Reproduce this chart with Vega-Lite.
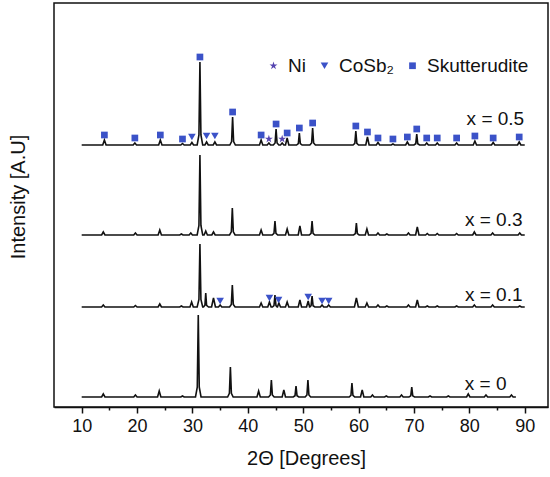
{
  "$schema": "https://vega.github.io/schema/vega-lite/v6.json",
  "width": 494,
  "height": 404,
  "autosize": {"type": "none"},
  "padding": {"left": 54, "top": 3, "right": 2, "bottom": 70},
  "background": "white",
  "title": {"text": "Intensity [A.U]", "orient": "left", "anchor": "middle", "fontSize": 20, "fontWeight": "normal", "font": "Liberation Sans", "color": "#111", "offset": 25, "dx": 8},
  "config": {
    "font": "Liberation Sans",
    "view": {"stroke": "#111", "strokeWidth": 1.5},
    "axis": {"grid": false, "domainColor": "#111", "domainWidth": 1.5, "tickColor": "#111", "tickWidth": 1.5, "labelColor": "#111", "titleColor": "#111", "labelFont": "Liberation Sans", "titleFont": "Liberation Sans", "titleFontWeight": "normal"}
  },
  "datasets": {
    "t05": [
      {"x":10,"y":262},
      {"x":13.8,"y":262},{"x":14.1,"y":267},{"x":14.4,"y":262},
      {"x":19.3,"y":262},{"x":19.6,"y":264},{"x":19.9,"y":262},
      {"x":23.9,"y":262},{"x":24.2,"y":267},{"x":24.5,"y":262},
      {"x":27.9,"y":262},{"x":28.2,"y":263.5},{"x":28.5,"y":262},
      {"x":29.6,"y":262},{"x":29.9,"y":264.5},{"x":30.2,"y":262},
      {"x":30.85,"y":262},{"x":31.17,"y":272},{"x":31.35,"y":345},{"x":31.53,"y":272},{"x":31.85,"y":262},
      {"x":32.25,"y":262},{"x":32.55,"y":265},{"x":32.85,"y":262},
      {"x":33.75,"y":262},{"x":34.05,"y":265},{"x":34.35,"y":262},
      {"x":36.75,"y":262},{"x":37.07,"y":265.4},{"x":37.25,"y":290},{"x":37.43,"y":265.4},{"x":37.75,"y":262},
      {"x":42.1,"y":262},{"x":42.4,"y":267},{"x":42.7,"y":262},
      {"x":43.5,"y":262},{"x":43.8,"y":264},{"x":44.1,"y":262},
      {"x":44.6,"y":262},{"x":44.92,"y":264},{"x":45.1,"y":278},{"x":45.28,"y":264},{"x":45.6,"y":262},
      {"x":45.9,"y":262},{"x":46.2,"y":264},{"x":46.5,"y":262},
      {"x":46.8,"y":262},{"x":47.1,"y":269},{"x":47.4,"y":262},
      {"x":48.8,"y":262},{"x":49.12,"y":263.5},{"x":49.3,"y":274},{"x":49.48,"y":263.5},{"x":49.8,"y":262},
      {"x":51.2,"y":262},{"x":51.52,"y":264},{"x":51.7,"y":279},{"x":51.88,"y":264},{"x":52.2,"y":262},
      {"x":59.0,"y":262},{"x":59.32,"y":263.7},{"x":59.5,"y":276},{"x":59.68,"y":263.7},{"x":60.0,"y":262},
      {"x":61.3,"y":262},{"x":61.6,"y":270},{"x":61.9,"y":262},
      {"x":63.2,"y":262},{"x":63.5,"y":264.5},{"x":63.8,"y":262},
      {"x":65.9,"y":262},{"x":66.2,"y":263},{"x":66.5,"y":262},
      {"x":68.5,"y":262},{"x":68.8,"y":265},{"x":69.1,"y":262},
      {"x":70.0,"y":262},{"x":70.32,"y":263.3},{"x":70.5,"y":273},{"x":70.68,"y":263.3},{"x":71.0,"y":262},
      {"x":72.0,"y":262},{"x":72.3,"y":264},{"x":72.6,"y":262},
      {"x":73.9,"y":262},{"x":74.2,"y":264},{"x":74.5,"y":262},
      {"x":77.4,"y":262},{"x":77.7,"y":264},{"x":78.0,"y":262},
      {"x":80.7,"y":262},{"x":81.0,"y":266},{"x":81.3,"y":262},
      {"x":84.0,"y":262},{"x":84.3,"y":264.5},{"x":84.6,"y":262},
      {"x":88.7,"y":262},{"x":89.0,"y":265},{"x":89.3,"y":262},
      {"x":90,"y":262}
    ],
    "t03": [
      {"x":10,"y":172},
      {"x":13.6,"y":172},{"x":13.9,"y":175},{"x":14.2,"y":172},
      {"x":19.4,"y":172},{"x":19.7,"y":174},{"x":20.0,"y":172},
      {"x":23.8,"y":172},{"x":24.1,"y":177},{"x":24.4,"y":172},
      {"x":27.7,"y":172},{"x":28.0,"y":173},{"x":28.3,"y":172},
      {"x":29.4,"y":172},{"x":29.7,"y":174},{"x":30.0,"y":172},
      {"x":30.85,"y":172},{"x":31.17,"y":181.6},{"x":31.35,"y":252},{"x":31.53,"y":181.6},{"x":31.85,"y":172},
      {"x":32.1,"y":172},{"x":32.4,"y":176},{"x":32.7,"y":172},
      {"x":33.5,"y":172},{"x":33.8,"y":175},{"x":34.1,"y":172},
      {"x":36.7,"y":172},{"x":37.02,"y":175.2},{"x":37.2,"y":199},{"x":37.38,"y":175.2},{"x":37.7,"y":172},
      {"x":42.1,"y":172},{"x":42.4,"y":177},{"x":42.7,"y":172},
      {"x":44.4,"y":172},{"x":44.72,"y":173.7},{"x":44.9,"y":186},{"x":45.08,"y":173.7},{"x":45.4,"y":172},
      {"x":46.8,"y":172},{"x":47.1,"y":178},{"x":47.4,"y":172},
      {"x":49.1,"y":172},{"x":49.4,"y":181},{"x":49.7,"y":172},
      {"x":51.1,"y":172},{"x":51.42,"y":173.7},{"x":51.6,"y":186},{"x":51.78,"y":173.7},{"x":52.1,"y":172},
      {"x":59.1,"y":172},{"x":59.42,"y":173.4},{"x":59.6,"y":184},{"x":59.78,"y":173.4},{"x":60.1,"y":172},
      {"x":61.2,"y":172},{"x":61.5,"y":178},{"x":61.8,"y":172},
      {"x":63.2,"y":172},{"x":63.5,"y":174},{"x":63.8,"y":172},
      {"x":64.8,"y":172},{"x":65.1,"y":173},{"x":65.4,"y":172},
      {"x":68.7,"y":172},{"x":69.0,"y":174},{"x":69.3,"y":172},
      {"x":70.3,"y":172},{"x":70.6,"y":180},{"x":70.9,"y":172},
      {"x":72.1,"y":172},{"x":72.4,"y":173.5},{"x":72.7,"y":172},
      {"x":73.9,"y":172},{"x":74.2,"y":173.5},{"x":74.5,"y":172},
      {"x":77.4,"y":172},{"x":77.7,"y":173.5},{"x":78.0,"y":172},
      {"x":80.6,"y":172},{"x":80.9,"y":175},{"x":81.2,"y":172},
      {"x":83.9,"y":172},{"x":84.2,"y":174},{"x":84.5,"y":172},
      {"x":88.8,"y":172},{"x":89.1,"y":174},{"x":89.4,"y":172},
      {"x":90,"y":172}
    ],
    "t01": [
      {"x":10,"y":100},
      {"x":13.6,"y":100},{"x":13.9,"y":102},{"x":14.2,"y":100},
      {"x":19.4,"y":100},{"x":19.7,"y":101.5},{"x":20.0,"y":100},
      {"x":23.8,"y":100},{"x":24.1,"y":103},{"x":24.4,"y":100},
      {"x":27.7,"y":100},{"x":28.0,"y":101},{"x":28.3,"y":100},
      {"x":29.55,"y":100},{"x":29.85,"y":105},{"x":30.15,"y":100},
      {"x":30.85,"y":100},{"x":31.17,"y":107.6},{"x":31.35,"y":163},{"x":31.53,"y":107.6},{"x":31.85,"y":100},
      {"x":32.0,"y":100},{"x":32.25,"y":101.7},{"x":32.4,"y":114},{"x":32.55,"y":101.7},{"x":32.9,"y":100},
      {"x":33.45,"y":100},{"x":33.8,"y":109},{"x":34.15,"y":100},
      {"x":34.7,"y":100},{"x":35.0,"y":102},{"x":35.3,"y":100},
      {"x":36.7,"y":100},{"x":37.02,"y":102.6},{"x":37.2,"y":122},{"x":37.38,"y":102.6},{"x":37.7,"y":100},
      {"x":42.1,"y":100},{"x":42.4,"y":104},{"x":42.7,"y":100},
      {"x":43.6,"y":100},{"x":43.9,"y":105},{"x":44.2,"y":100},
      {"x":44.45,"y":100},{"x":44.72,"y":101.4},{"x":44.9,"y":112},{"x":45.08,"y":101.4},{"x":45.3,"y":100},
      {"x":45.35,"y":100},{"x":45.6,"y":104},{"x":45.9,"y":100},
      {"x":46.8,"y":100},{"x":47.1,"y":105},{"x":47.4,"y":100},
      {"x":49.1,"y":100},{"x":49.4,"y":107},{"x":49.7,"y":100},
      {"x":50.6,"y":100},{"x":50.9,"y":106},{"x":51.15,"y":100},
      {"x":51.2,"y":100},{"x":51.42,"y":101.3},{"x":51.6,"y":111},{"x":51.78,"y":101.3},{"x":52.1,"y":100},
      {"x":53.1,"y":100},{"x":53.4,"y":102},{"x":53.7,"y":100},
      {"x":54.3,"y":100},{"x":54.6,"y":102},{"x":54.9,"y":100},
      {"x":59.25,"y":100},{"x":59.6,"y":109},{"x":59.95,"y":100},
      {"x":61.2,"y":100},{"x":61.5,"y":104},{"x":61.8,"y":100},
      {"x":63.2,"y":100},{"x":63.5,"y":102},{"x":63.8,"y":100},
      {"x":64.8,"y":100},{"x":65.1,"y":101},{"x":65.4,"y":100},
      {"x":68.7,"y":100},{"x":69.0,"y":102},{"x":69.3,"y":100},
      {"x":70.3,"y":100},{"x":70.6,"y":107},{"x":70.9,"y":100},
      {"x":72.1,"y":100},{"x":72.4,"y":101},{"x":72.7,"y":100},
      {"x":73.9,"y":100},{"x":74.2,"y":101},{"x":74.5,"y":100},
      {"x":77.4,"y":100},{"x":77.7,"y":101},{"x":78.0,"y":100},
      {"x":80.6,"y":100},{"x":80.9,"y":102},{"x":81.2,"y":100},
      {"x":83.9,"y":100},{"x":84.2,"y":102},{"x":84.5,"y":100},
      {"x":88.8,"y":100},{"x":89.1,"y":101},{"x":89.4,"y":100},
      {"x":90,"y":100}
    ],
    "t00": [
      {"x":10,"y":10},
      {"x":13.6,"y":10},{"x":13.9,"y":13},{"x":14.2,"y":10},
      {"x":19.4,"y":10},{"x":19.7,"y":12},{"x":20.0,"y":10},
      {"x":23.7,"y":10},{"x":24.0,"y":16},{"x":24.3,"y":10},
      {"x":27.9,"y":10},{"x":28.2,"y":11},{"x":28.5,"y":10},
      {"x":30.55,"y":10},{"x":30.87,"y":19.8},{"x":31.05,"y":92},{"x":31.23,"y":19.8},{"x":31.55,"y":10},
      {"x":36.35,"y":10},{"x":36.67,"y":13.6},{"x":36.85,"y":40},{"x":37.03,"y":13.6},{"x":37.35,"y":10},
      {"x":41.65,"y":10},{"x":41.95,"y":16},{"x":42.25,"y":10},
      {"x":43.75,"y":10},{"x":44.07,"y":12},{"x":44.25,"y":27},{"x":44.43,"y":12},{"x":44.75,"y":10},
      {"x":46.2,"y":10},{"x":46.5,"y":17},{"x":46.8,"y":10},
      {"x":48.2,"y":10},{"x":48.52,"y":11.3},{"x":48.7,"y":21},{"x":48.88,"y":11.3},{"x":49.2,"y":10},
      {"x":50.35,"y":10},{"x":50.67,"y":12},{"x":50.85,"y":27},{"x":51.03,"y":12},{"x":51.35,"y":10},
      {"x":58.3,"y":10},{"x":58.62,"y":11.7},{"x":58.8,"y":24},{"x":58.98,"y":11.7},{"x":59.3,"y":10},
      {"x":60.35,"y":10},{"x":60.65,"y":17},{"x":60.95,"y":10},
      {"x":62.2,"y":10},{"x":62.5,"y":12},{"x":62.8,"y":10},
      {"x":64.7,"y":10},{"x":65.0,"y":11},{"x":65.3,"y":10},
      {"x":67.45,"y":10},{"x":67.75,"y":12},{"x":68.05,"y":10},
      {"x":69.1,"y":10},{"x":69.42,"y":11.2},{"x":69.6,"y":20},{"x":69.78,"y":11.2},{"x":70.1,"y":10},
      {"x":72.6,"y":10},{"x":72.9,"y":11},{"x":73.2,"y":10},
      {"x":75.9,"y":10},{"x":76.2,"y":11},{"x":76.5,"y":10},
      {"x":79.5,"y":10},{"x":79.8,"y":13},{"x":80.1,"y":10},
      {"x":82.7,"y":10},{"x":83.0,"y":12},{"x":83.3,"y":10},
      {"x":87.3,"y":10},{"x":87.6,"y":12},{"x":87.9,"y":10},
      {"x":88.4,"y":10}
    ],
    "markers": [
      {"x":14.1,"y":272,"phase":"Skutterudite"},
      {"x":19.6,"y":269,"phase":"Skutterudite"},
      {"x":24.2,"y":272,"phase":"Skutterudite"},
      {"x":28.2,"y":268,"phase":"Skutterudite"},
      {"x":31.35,"y":350,"phase":"Skutterudite"},
      {"x":37.25,"y":295,"phase":"Skutterudite"},
      {"x":42.4,"y":272,"phase":"Skutterudite"},
      {"x":45.1,"y":283,"phase":"Skutterudite"},
      {"x":47.1,"y":274,"phase":"Skutterudite"},
      {"x":49.3,"y":279,"phase":"Skutterudite"},
      {"x":51.7,"y":284,"phase":"Skutterudite"},
      {"x":59.5,"y":281,"phase":"Skutterudite"},
      {"x":61.6,"y":275,"phase":"Skutterudite"},
      {"x":63.5,"y":269,"phase":"Skutterudite"},
      {"x":66.2,"y":268,"phase":"Skutterudite"},
      {"x":68.8,"y":270,"phase":"Skutterudite"},
      {"x":70.5,"y":278,"phase":"Skutterudite"},
      {"x":72.3,"y":269,"phase":"Skutterudite"},
      {"x":74.2,"y":269,"phase":"Skutterudite"},
      {"x":77.7,"y":269,"phase":"Skutterudite"},
      {"x":81.0,"y":271,"phase":"Skutterudite"},
      {"x":84.3,"y":269,"phase":"Skutterudite"},
      {"x":89.0,"y":270,"phase":"Skutterudite"},
      {"x":29.9,"y":270,"phase":"CoSb₂"},
      {"x":32.55,"y":271,"phase":"CoSb₂"},
      {"x":34.05,"y":271,"phase":"CoSb₂"},
      {"x":43.8,"y":268,"phase":"Ni"},
      {"x":46.2,"y":268,"phase":"Ni"},
      {"x":35.0,"y":106,"phase":"CoSb₂"},
      {"x":43.9,"y":109,"phase":"CoSb₂"},
      {"x":45.55,"y":107,"phase":"CoSb₂"},
      {"x":50.9,"y":110,"phase":"CoSb₂"},
      {"x":53.4,"y":106,"phase":"CoSb₂"},
      {"x":54.6,"y":106,"phase":"CoSb₂"}
    ],
    "labels": [
      {"x":89.9,"y":288,"label":"x = 0.5"},
      {"x":89.6,"y":187,"label":"x = 0.3"},
      {"x":89.6,"y":112,"label":"x = 0.1"},
      {"x":86.7,"y":23,"label":"x = 0"}
    ]
  },
  "resolve": {"axis": {"x": "independent"}},
  "layer": [
    {
      "data": {"name": "t05"},
      "mark": {"type": "line", "color": "#111", "strokeWidth": 1.6},
      "encoding": {
        "x": {"field": "x", "type": "quantitative", "scale": {"domain": [5, 94.2], "nice": false, "zero": false},
          "axis": {"orient": "bottom", "values": [10,20,30,40,50,60,70,80,90], "tickSize": 6, "labelFontSize": 18, "labelPadding": 4, "title": "2Θ [Degrees]", "titleFontSize": 20, "titlePadding": 13, "titleX": 252}},
        "y": {"field": "y", "type": "quantitative", "scale": {"domain": [0, 404], "nice": false, "zero": false}, "axis": null}
      }
    },
    {
      "data": {"name": "t03"},
      "mark": {"type": "line", "color": "#111", "strokeWidth": 1.6},
      "encoding": {
        "x": {"field": "x", "type": "quantitative",
          "axis": {"orient": "bottom", "values": [15,25,35,45,55,65,75,85], "tickSize": 3, "labels": false, "domain": false, "title": null}},
        "y": {"field": "y", "type": "quantitative", "axis": null}
      }
    },
    {
      "data": {"name": "t01"},
      "mark": {"type": "line", "color": "#111", "strokeWidth": 1.6},
      "encoding": {
        "x": {"field": "x", "type": "quantitative", "axis": null},
        "y": {"field": "y", "type": "quantitative", "axis": null}
      }
    },
    {
      "data": {"name": "t00"},
      "mark": {"type": "line", "color": "#111", "strokeWidth": 1.6},
      "encoding": {
        "x": {"field": "x", "type": "quantitative", "axis": null},
        "y": {"field": "y", "type": "quantitative", "axis": null}
      }
    },
    {
      "data": {"name": "markers"},
      "mark": {"type": "point", "filled": true, "opacity": 1},
      "encoding": {
        "x": {"field": "x", "type": "quantitative", "axis": null},
        "y": {"field": "y", "type": "quantitative", "axis": null},
        "shape": {"field": "phase", "type": "nominal",
          "scale": {"domain": ["Ni", "CoSb₂", "Skutterudite"], "range": ["M0,-1L0.2245,-0.309L0.951,-0.309L0.363,0.118L0.588,0.809L0,0.382L-0.588,0.809L-0.363,0.118L-0.951,-0.309L-0.2245,-0.309Z", "triangle-down", "square"]},
          "legend": {"title": null, "orient": "none", "legendX": 210, "legendY": 53, "direction": "horizontal", "labelFontSize": 19, "labelFont": "Liberation Sans", "labelColor": "#111", "labelOffset": 5, "columnPadding": 9, "padding": 0, "symbolStrokeWidth": 0}},
        "color": {"field": "phase", "type": "nominal",
          "scale": {"domain": ["Ni", "CoSb₂", "Skutterudite"], "range": ["#5544b0", "#3b52c8", "#3b52c8"]},
          "legend": {"title": null, "orient": "none", "legendX": 210, "legendY": 53, "direction": "horizontal", "labelFontSize": 19, "labelFont": "Liberation Sans", "labelColor": "#111", "labelOffset": 5, "columnPadding": 9, "padding": 0, "symbolStrokeWidth": 0}},
        "size": {"field": "phase", "type": "nominal",
          "scale": {"domain": ["Ni", "CoSb₂", "Skutterudite"], "range": [70, 45, 38]},
          "legend": {"title": null, "orient": "none", "legendX": 210, "legendY": 53, "direction": "horizontal", "labelFontSize": 19, "labelFont": "Liberation Sans", "labelColor": "#111", "labelOffset": 5, "columnPadding": 9, "padding": 0, "symbolStrokeWidth": 0}}
      }
    },
    {
      "data": {"name": "labels"},
      "mark": {"type": "text", "align": "right", "baseline": "middle", "fontSize": 19, "font": "Liberation Sans", "color": "#111"},
      "encoding": {
        "x": {"field": "x", "type": "quantitative", "axis": null},
        "y": {"field": "y", "type": "quantitative", "axis": null},
        "text": {"field": "label"}
      }
    }
  ]
}
